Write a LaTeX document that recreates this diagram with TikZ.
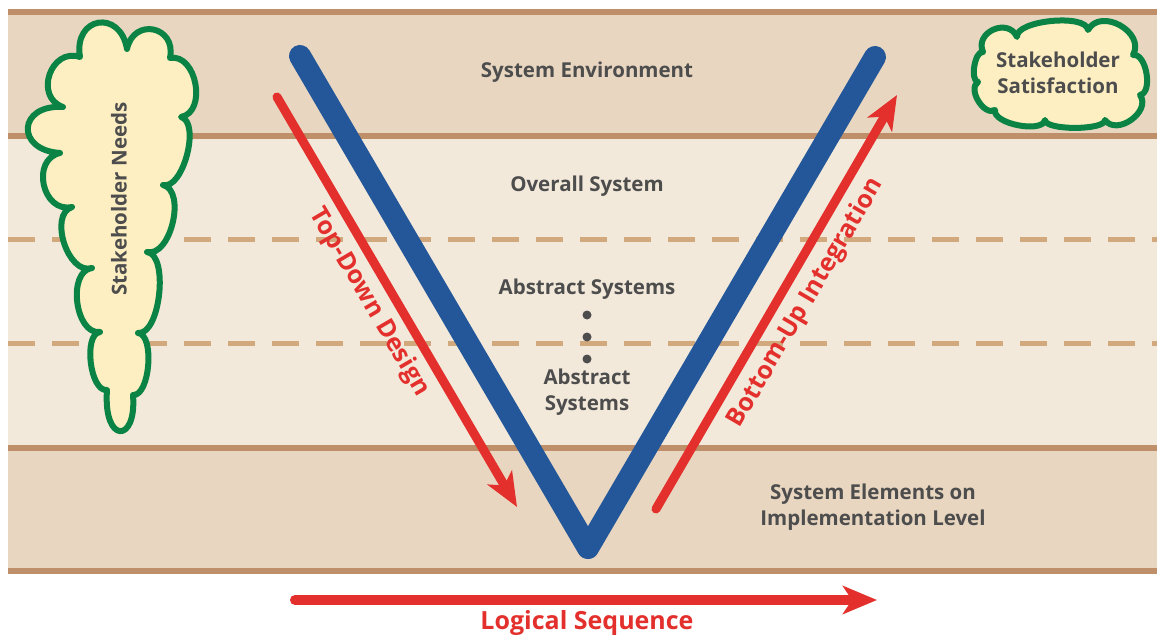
\documentclass[tikz,border=0pt]{standalone}
\usepackage{fontspec}
\setmainfont{Open Sans}
\usetikzlibrary{arrows.meta}
\definecolor{bandDark}{HTML}{E8D6C0}
\definecolor{bandLight}{HTML}{F3E9DB}
\definecolor{sepBrown}{HTML}{BE8F68}
\definecolor{dashBrown}{HTML}{D2A87D}
\definecolor{vBlue}{HTML}{235799}
\definecolor{aRed}{HTML}{E3302C}
\definecolor{cGreen}{HTML}{0A8344}
\definecolor{cFill}{HTML}{FDEFC2}
\definecolor{txtGray}{HTML}{4D4D4D}
\tikzset{
  sepline/.style={draw=sepBrown,line width=6pt},
  dashline/.style={draw=dashBrown,line width=5pt,dash pattern=on 27pt off 17pt},
  cloudshape/.style={draw=cGreen,fill=cFill,line width=6pt,line join=round},
  vline/.style={draw=vBlue,line width=22pt,line cap=round,line join=round},
  redarrow/.style={draw=aRed,line width=9pt,line cap=round,-{Stealth[length=34pt,width=28pt,inset=9pt]}},
  lbl/.style={text=txtGray,font=\fontsize{20.5}{26}\selectfont\bfseries,inner sep=0pt,align=center},
  redlbl/.style={text=aRed,font=\fontsize{25}{28}\selectfont\bfseries,inner sep=0pt},
  dotnode/.style={circle,fill=txtGray,minimum size=9pt,inner sep=0pt}
}
\begin{document}
\begin{tikzpicture}[x=1pt,y=-1pt]
\useasboundingbox (0,0) rectangle (1157,639);
\fill[white] (0,0) rectangle (1157,639);
% bands
\fill[bandDark] (8,9) rectangle (1157,136);
\fill[bandLight] (8,136) rectangle (1157,447.5);
\fill[bandDark] (8,447.5) rectangle (1157,574);
\draw[sepline] (8,12) -- (1157,12);
\draw[sepline] (8,136) -- (1157,136);
\draw[sepline] (8,447.5) -- (1157,447.5);
\draw[sepline] (8,571) -- (1157,571);
\draw[dashline] (8,240) -- (1157,240);
\draw[dashline] (8,343.5) -- (1157,343.5);
% left cloud
\draw[cloudshape] (80,57) to[bend left=90,looseness=2.2] (127,49)
  to[bend left=90,looseness=1.9] (170,58)
  to[bend left=90,looseness=1.15] (181,117)
  to[bend left=90,looseness=0.75] (163,185)
  to[bend left=90,looseness=0.9] (147,252)
  to[bend left=90,looseness=0.7] (138,333)
  to[bend left=90,looseness=0.7] (133,395)
  .. controls (137,444) and (103,444) .. (107,390)
  to[bend left=90,looseness=0.75] (100,332)
  to[bend left=90,looseness=1.0] (92,268)
  to[bend left=90,looseness=1.0] (72,207)
  to[bend left=90,looseness=1.4] (60,153)
  to[bend left=90,looseness=2.5] (63,107)
  to[bend left=90,looseness=1.5] (80,57) -- cycle;
% right cloud
\draw[cloudshape] (983,52) to[bend left=90,looseness=1.5] (1017,37)
  to[bend left=90,looseness=0.6] (1088,30)
  to[bend left=90,looseness=1.3] (1133,55)
  to[bend left=90,looseness=0.85] (1140,95)
  to[bend left=90,looseness=1.2] (1105,120)
  to[bend left=90,looseness=0.45] (1045,120)
  to[bend left=90,looseness=0.7] (995,110)
  to[bend left=90,looseness=1.0] (978,82)
  to[bend left=90,looseness=0.7] (983,52) -- cycle;
% V
\coordinate (vL) at (300,56);
\coordinate (vB) at (588,548);
\coordinate (vR) at (875,57);
\draw[vline] (vL) -- (vB) -- (vR);
% red arrows
\coordinate (tdS) at (277,97);
\coordinate (tdE) at (517,507);
\coordinate (buS) at (656,509);
\coordinate (buE) at (897,95);
\coordinate (lsS) at (295,600);
\coordinate (lsE) at (877,600);
\draw[redarrow] (tdS) -- (tdE);
\draw[redarrow] (buS) -- (buE);
\draw[redarrow,line width=10pt] (lsS) -- (lsE);
% labels
\node[lbl] (env) at (587,72) {System Environment};
\node[lbl] (ovr) at (587,186) {Overall System};
\node[lbl] (abs1) at (587,289) {Abstract Systems};
\node[dotnode] (d1) at (587,315) {};
\node[dotnode] (d2) at (587,337) {};
\node[dotnode] (d3) at (587,359) {};
\node[lbl] (abs2) at (587,392) {Abstract\\Systems};
\node[lbl] (elem) at (873,507) {System Elements on\\Implementation Level};
\node[lbl,rotate=90] (needs) at (119,199) {Stakeholder Needs};
\node[lbl] (sat) at (1058,73) {Stakeholder\\Satisfaction};
\node[redlbl,rotate=-59.6] (td) at (369,302) {Top-Down Design};
\node[redlbl,rotate=59.7] (bu) at (806,303) {Bottom-Up Integration};
\node[redlbl] (ls) at (587,623) {Logical Sequence};
\end{tikzpicture}
\end{document}
